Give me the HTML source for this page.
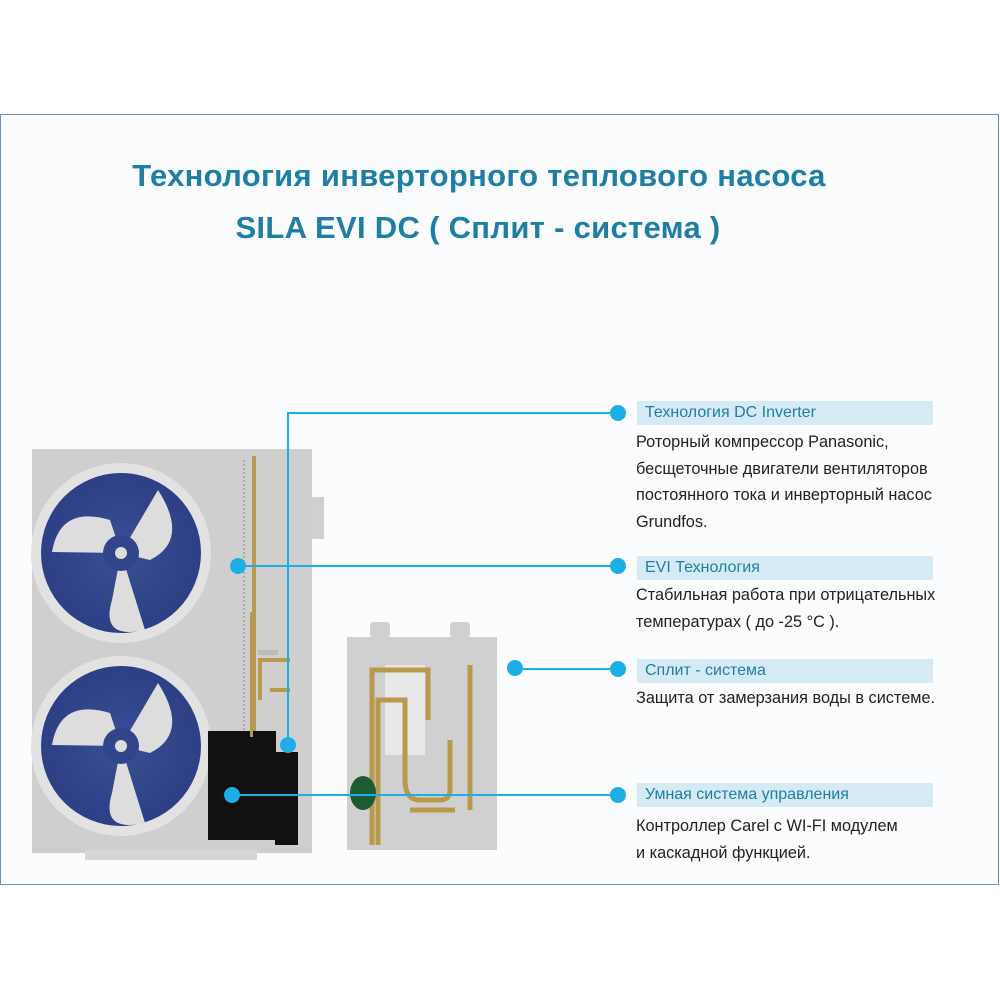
<!DOCTYPE html>
<html><head><meta charset="utf-8"><style>
body{margin:0;width:1000px;height:1000px;background:#fff;position:relative;overflow:hidden;font-family:"Liberation Sans Narrow","Liberation Sans",sans-serif}
.panel{position:absolute;left:0;top:114px;width:997px;height:769px;border:1px solid #6a8fc0;background:#fafcfd}
.t{position:absolute;left:0;width:958px;text-align:center;color:#1e7ea3;font-weight:bold;font-size:31px;letter-spacing:0.3px}
.hb{position:absolute;left:637px;width:296px;height:24px;background:#d6eaf5;color:#1d7fa3;font-size:16px;line-height:24px;padding-left:8px;box-sizing:border-box}
.bt{position:absolute;left:636px;color:#222;font-size:16.3px;line-height:26.5px;white-space:nowrap}
svg{position:absolute;left:0;top:0}
</style></head><body>
<div class="panel"></div>
<div class="t" style="top:158px">Технология инверторного теплового насоса</div>
<div class="t" style="top:210px;left:0;width:956px">SILA EVI DC ( Сплит - система )</div>
<svg width="1000" height="1000" viewBox="0 0 1000 1000">
<defs><radialGradient id="fg" cx="0.5" cy="0.5" r="0.5"><stop offset="0" stop-color="#3a4f95"/><stop offset="1" stop-color="#2d3f85"/></radialGradient></defs>
<rect x="32" y="449" width="280" height="404" fill="#cfcfcf"/>
<rect x="85" y="850" width="172" height="10" fill="#d6d6d6"/>
<rect x="312" y="497" width="12" height="42" fill="#d0d0d0"/>
<g>
<circle cx="121" cy="553" r="90" fill="#e2e2e2"/><circle cx="121" cy="553" r="80" fill="url(#fg)"/>
<path d="M121 553 L52 552 Q60 505 110 520 Z" fill="#ddd"/><path d="M121 553 L158 490 Q190 540 150 560 Z" fill="#ddd"/><path d="M121 553 L145 630 Q100 640 112 600 Z" fill="#ddd"/>
<circle cx="121" cy="553" r="18" fill="#33458a"/><circle cx="121" cy="553" r="6" fill="#ddd"/>
</g>
<g>
<circle cx="121" cy="746" r="90" fill="#e2e2e2"/><circle cx="121" cy="746" r="80" fill="url(#fg)"/>
<path d="M121 746 L52 745 Q60 698 110 713 Z" fill="#ddd"/><path d="M121 746 L158 683 Q190 733 150 753 Z" fill="#ddd"/><path d="M121 746 L145 823 Q100 833 112 793 Z" fill="#ddd"/>
<circle cx="121" cy="746" r="18" fill="#33458a"/><circle cx="121" cy="746" r="6" fill="#ddd"/>
</g>
<line x1="244" y1="460" x2="244" y2="840" stroke="#aaa" stroke-width="2" stroke-dasharray="2 2"/>
<rect x="252" y="456" width="4" height="290" fill="#b99a4c"/>
<rect x="208" y="731" width="46" height="109" fill="#111"/><rect x="253" y="731" width="23" height="109" fill="#111"/>
<rect x="275" y="752" width="23" height="93" fill="#111"/>
<rect x="250" y="612" width="3" height="125" fill="#b99a4c"/><rect x="258" y="650" width="20" height="5" fill="#bbb"/>
<path d="M260 700 L260 660 L290 660 M270 690 L290 690" stroke="#b99a4c" stroke-width="4" fill="none"/>
<path d="M372 652 l8 4 -8 4z M372 677 l8 4 -8 4z" fill="#b0622a"/>
<rect x="347" y="637" width="150" height="213" fill="#d0d0d0"/>
<rect x="370" y="622" width="20" height="16" rx="4" fill="#d0d0d0"/><rect x="450" y="622" width="20" height="16" rx="4" fill="#d0d0d0"/>
<rect x="385" y="665" width="40" height="90" fill="#e8e8e8"/>
<path d="M372 845 L372 670 L428 670 L428 720 M378 845 L378 700 L405 700 L405 780 Q405 800 420 800 L440 800 Q450 800 450 790 L450 740 M470 665 L470 810 M410 810 L455 810" stroke="#b99a4c" stroke-width="5" fill="none"/>
<ellipse cx="363" cy="793" rx="13" ry="17" fill="#1e5a34"/>
<g stroke="#1eaee6" stroke-width="2" fill="none">
<polyline points="618,413 288,413 288,745"/>
<line x1="238" y1="566" x2="618" y2="566"/>
<line x1="515" y1="669" x2="618" y2="669"/>
<line x1="232" y1="795" x2="618" y2="795"/>
</g>
<g fill="#1eaee6">
<circle cx="618" cy="413" r="8"/><circle cx="618" cy="566" r="8"/><circle cx="618" cy="669" r="8"/><circle cx="618" cy="795" r="8"/>
<circle cx="288" cy="745" r="8"/><circle cx="238" cy="566" r="8"/><circle cx="515" cy="668" r="8"/><circle cx="232" cy="795" r="8"/>
</g>
</svg>
<div class="hb" style="top:401px">Технология DC Inverter</div>
<div class="bt" style="top:429px">Роторный компрессор Panasonic,<br>бесщеточные двигатели вентиляторов<br>постоянного тока и инверторный насос<br>Grundfos.</div>
<div class="hb" style="top:556px">EVI Технология</div>
<div class="bt" style="top:582px">Стабильная работа при отрицательных<br>температурах ( до -25 °C ).</div>
<div class="hb" style="top:659px">Сплит - система</div>
<div class="bt" style="top:685px">Защита от замерзания воды в системе.</div>
<div class="hb" style="top:783px">Умная система управления</div>
<div class="bt" style="top:813px">Контроллер Carel с WI-FI модулем<br>и каскадной функцией.</div>
</body></html>
